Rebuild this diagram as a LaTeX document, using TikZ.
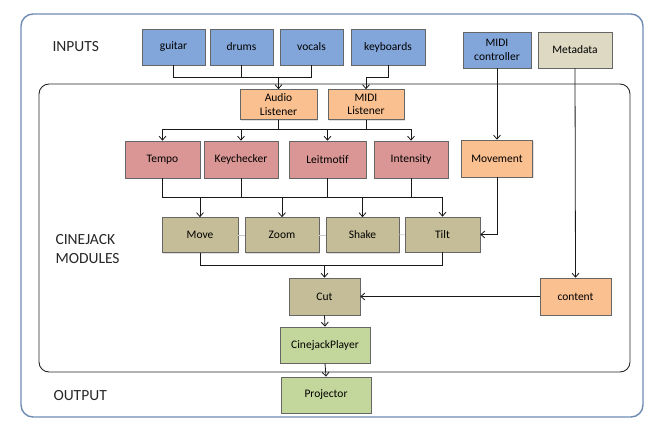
\documentclass[tikz,border=0pt]{standalone}
\usepackage{fontspec}
\setmainfont{Carlito}
\usetikzlibrary{arrows.meta,shadows}
\definecolor{inblue}{RGB}{131,166,218}
\definecolor{metatan}{RGB}{221,217,195}
\definecolor{listorange}{RGB}{250,192,144}
\definecolor{detpink}{RGB}{217,150,148}
\definecolor{fxkhaki}{RGB}{196,189,151}
\definecolor{outgreen}{RGB}{195,214,155}
\definecolor{canvasblue}{RGB}{110,140,178}

\begin{document}
\begin{tikzpicture}[
  x=1pt,y=-1pt,
  box/.style={draw=black!60,line width=0.6pt,align=center,inner sep=1pt,font=\fontsize{11.5}{13.5}\selectfont,
    drop shadow={opacity=0.25,shadow xshift=1pt,shadow yshift=-1pt}},
  inbox/.style={box,fill=inblue,minimum height=36pt},
  metabox/.style={box,fill=metatan,minimum height=36pt},
  listbox/.style={box,fill=listorange,minimum height=30pt},
  detbox/.style={box,fill=detpink,minimum height=37pt},
  fxbox/.style={box,fill=fxkhaki,minimum height=35pt},
  outbox/.style={box,fill=outgreen,minimum height=36pt},
  lbl/.style={anchor=west,align=left,text=black!85,font=\fontsize{15.5}{19}\selectfont},
  line/.style={black!90,line width=0.8pt},
  arr/.style={line,-{Straight Barb[length=4pt,width=7pt]}},
  glink/.style={black!20,line width=0.6pt}
]
  \useasboundingbox (0,0) rectangle (647,428);
  % frames
  \draw[canvasblue,line width=1.4pt,rounded corners=12pt] (21,14) rectangle (643,417);
  \draw[black!85,line width=0.9pt,rounded corners=10pt] (39,84) rectangle (630,372);

  % labels
  \node[lbl] (inputs) at (49,47) {INPUTS};
  \node[lbl] (modules) at (52,249) {CINEJACK\\MODULES};
  \node[lbl] (output) at (50,396) {OUTPUT};

  % inputs
  \node[inbox,minimum width=63pt] (guitar) at (173.5,47) {guitar};
  \node[inbox,minimum width=63pt] (drums) at (241.5,47) {drums};
  \node[inbox,minimum width=63pt] (vocals) at (311.5,47) {vocals};
  \node[inbox,minimum width=74pt] (keys) at (388,47) {keyboards};
  \node[inbox,minimum width=68pt] (midictl) at (497,50) {MIDI\\controller};
  \node[metabox,minimum width=74pt] (meta) at (575,50) {Metadata};

  % listeners
  \node[listbox,minimum width=77pt] (alisten) at (278.5,104.5) {Audio\\Listener};
  \node[listbox,minimum width=76pt] (mlisten) at (366,104.5) {MIDI\\Listener};

  % detectors
  \node[detbox,minimum width=75pt] (tempo) at (162.5,159.5) {Tempo};
  \node[detbox,minimum width=74pt] (keycheck) at (241,159.5) {Keychecker};
  \node[detbox,minimum width=77pt] (leit) at (327.5,159.5) {Leitmotif};
  \node[detbox,minimum width=74pt] (intens) at (411,159.5) {Intensity};
  \node[listbox,minimum width=71pt,minimum height=37pt] (movement) at (497,158.5) {Movement};

  % effects
  \node[fxbox,minimum width=76pt] (move) at (200,235) {Move};
  \node[fxbox,minimum width=74pt] (zoom) at (282,235) {Zoom};
  \node[fxbox,minimum width=73pt] (shake) at (362.5,235) {Shake};
  \node[fxbox,minimum width=75pt] (tilt) at (442.5,234.5) {Tilt};

  \node[fxbox,minimum width=71pt,minimum height=37pt] (cut) at (324.5,296.5) {Cut};
  \node[listbox,minimum width=71pt,minimum height=37pt] (content) at (575.5,296.5) {content};

  % output
  \node[outbox,minimum width=90pt] (player) at (325,345) {CinejackPlayer};
  \node[outbox,minimum width=90pt] (projector) at (326,395) {Projector};

  % bus levels
  \coordinate (inbus) at (0,77);
  \coordinate (detbus) at (0,129);
  \coordinate (fxbus) at (0,197);
  \coordinate (cutbus) at (0,265);

  % inputs to listeners
  \draw[line] (guitar.south) -- (guitar.south |- inbus) -- (vocals.south |- inbus) -- (vocals.south);
  \draw[line] (drums.south) -- (drums.south |- inbus);
  \draw[arr] (alisten.north |- inbus) -- (alisten.north);
  \draw[arr] (keys.south) -- (keys.south |- inbus) -| (mlisten.north);

  % listeners to detectors
  \draw[line] (tempo.north |- detbus) -- (intens.north |- detbus);
  \draw[line] (alisten.south) -- (alisten.south |- detbus);
  \draw[line] (mlisten.south) -- (mlisten.south |- detbus);
  \draw[arr] (tempo.north |- detbus) -- (tempo.north);
  \draw[arr] (keycheck.north |- detbus) -- (keycheck.north);
  \draw[arr] (leit.north |- detbus) -- (leit.north);
  \draw[arr] (intens.north |- detbus) -- (intens.north);
  \draw[arr] (midictl.south) -- (movement.north);

  % detectors to effects
  \draw[line] (tempo.south) -- (tempo.south |- fxbus) -- (tilt.north |- fxbus);
  \draw[line] (keycheck.south) -- (keycheck.south |- fxbus);
  \draw[line] (leit.south) -- (leit.south |- fxbus);
  \draw[line] (intens.south) -- (intens.south |- fxbus);
  \draw[arr] (move.north |- fxbus) -- (move.north);
  \draw[arr] (zoom.north |- fxbus) -- (zoom.north);
  \draw[arr] (shake.north |- fxbus) -- (shake.north);
  \draw[arr] (tilt.north |- fxbus) -- (tilt.north);
  \draw[arr] (movement.south) |- (tilt.east);
  \draw[glink] (move) -- (zoom);
  \draw[glink] (zoom) -- (shake);
  \draw[glink] (shake) -- (tilt);

  % effects to cut
  \draw[line] (move.south) -- (move.south |- cutbus) -- (tilt.south |- cutbus) -- (tilt.south);
  \draw[arr] (cut.north |- cutbus) -- (cut.north);
  \draw[arr] (meta.south) -- (content.north);
  \draw[arr] (content.west) -- (cut.east);

  % output chain
  \draw[arr] (cut.south) -- (player.north);
  \draw[arr] (player.south) -- (projector.north);
\end{tikzpicture}
\end{document}
